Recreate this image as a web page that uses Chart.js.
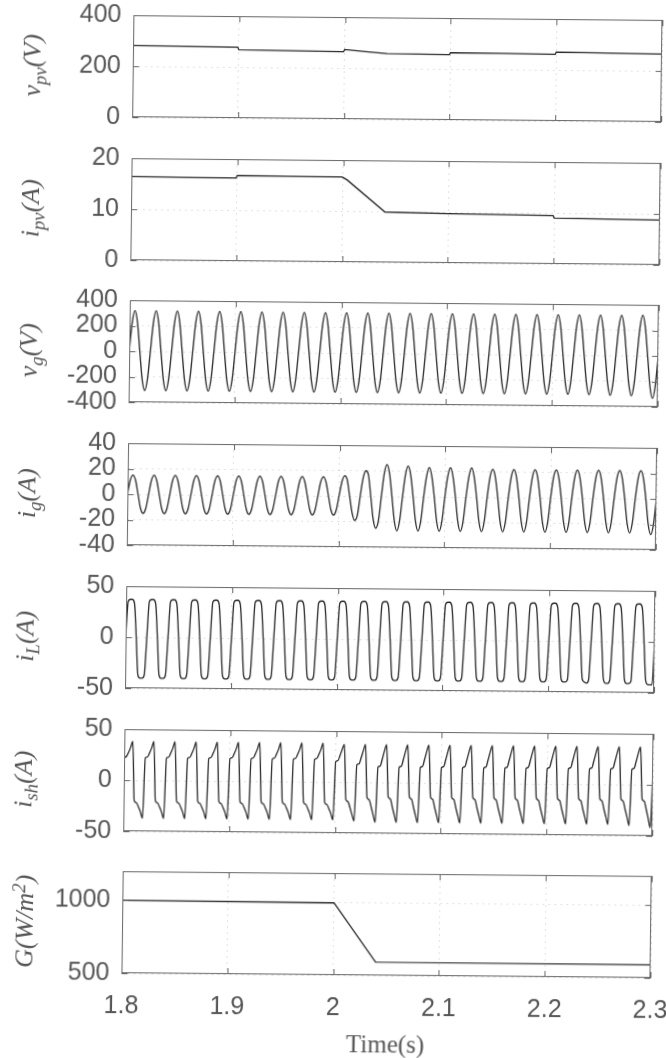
<!DOCTYPE html>
<html>
<head>
<meta charset="utf-8">
<script src="https://cdn.jsdelivr.net/npm/chart.js@4.4.0/dist/chart.umd.min.js"></script>
<style>
  html, body { margin: 0; padding: 0; background: #fff; }
  body { width: 666px; height: 1058px; overflow: hidden; position: relative; }
  #fig { position: absolute; left: 0; top: 0; width: 666px; height: 1058px;
         transform-origin: 333px 529px; transform: matrix(1, 0.009, -0.0125, 1, 0, 0); }
  .ylab { position: absolute; font-family: "Liberation Serif", serif; font-style: italic;
          font-size: 26px; color: #555; white-space: nowrap; line-height: 1;
          transform: translate(-50%, -50%) rotate(-90deg); }
  .ylab sub { font-size: 0.72em; vertical-align: -0.3em; }
  .ylab sup { font-size: 0.72em; vertical-align: 0.45em; }
</style>
</head>
<body>
<div id="fig"></div>
<script>
// time axis
const timeTicks = [1.8, 1.9, 2.0, 2.1, 2.2, 2.3];
const timeLabels = ['1.8', '1.9', '2', '2.1', '2.2', '2.3'];

// PV voltage (V)
const vpvTime  = [1.8, 1.85, 1.899, 1.9, 1.95, 1.999, 2.0, 2.02, 2.04, 2.07, 2.099, 2.1, 2.15, 2.199, 2.2, 2.25, 2.3];
const vpvValue = [281, 280, 278, 268, 266, 264, 273, 265, 258, 257, 256, 264, 263, 261, 270, 268, 266];
const vpvTicks = [0, 200, 400];

// PV current (A)
const ipvTime  = [1.8, 1.899, 1.9, 1.999, 2.0, 2.004, 2.04, 2.1, 2.199, 2.2, 2.3];
const ipvValue = [16.4, 16.3, 16.8, 16.7, 16.6, 16.1, 9.9, 9.7, 9.5, 9.0, 8.8];
const ipvTicks = [0, 10, 20];

// grid voltage (V), eight samples per cycle (0.0025 s)
const vgStep = 0.0025;
const vgValue = [
  0, 225, 318, 225, 0, -218, -308, -218,
  0, 225, 318, 225, 0, -218, -308, -218,
  0, 225, 318, 225, 0, -218, -308, -218,
  0, 225, 318, 225, 0, -218, -308, -218,
  0, 225, 318, 225, 0, -218, -308, -218,
  0, 225, 318, 225, 0, -218, -308, -218,
  0, 224, 317, 224, 0, -218, -308, -218,
  0, 223, 316, 223, 0, -218, -308, -218,
  0, 223, 316, 223, 0, -218, -308, -218,
  0, 223, 316, 223, 0, -218, -308, -218,
  0, 223, 316, 223, 0, -218, -308, -218,
  0, 223, 316, 223, 0, -218, -308, -218,
  0, 223, 316, 223, 0, -218, -308, -218,
  0, 223, 316, 223, 0, -218, -308, -218,
  0, 223, 316, 223, 0, -218, -308, -218,
  0, 223, 316, 223, 0, -218, -308, -218,
  0, 223, 316, 223, 0, -218, -308, -218,
  0, 223, 316, 223, 0, -218, -308, -218,
  0, 223, 316, 223, 0, -218, -308, -218,
  0, 223, 316, 223, 0, -218, -308, -218,
  0, 223, 316, 223, 0, -218, -308, -218,
  0, 223, 316, 223, 0, -219, -310, -219,
  0, 223, 316, 223, 0, -221, -312, -221,
  0, 224, 317, 224, 0, -223, -315, -223,
  0, 225, 318, 225, 0, -237, -335, -237,
  0
];
const vgTicks = [-400, -200, 0, 200, 400];

// grid current (A), eight samples per cycle
const igStep = 0.0025;
const igValue = [
  0, 11, 15, 11, 0, -11, -15, -11,
  0, 11, 15, 11, 0, -11, -15, -11,
  0, 11, 15, 11, 0, -11, -15, -11,
  0, 11, 15, 11, 0, -11, -15, -11,
  0, 11, 15, 11, 0, -11, -15, -11,
  0, 11, 15, 11, 0, -11, -15, -11,
  0, 11, 15, 11, 0, -11, -15, -11,
  0, 11, 15, 11, 0, -11, -15, -11,
  0, 11, 15, 11, 0, -11, -15, -11,
  0, 11, 15, 11, 0, -11, -15, -11,
  0, 11, 16, 13, 0, -13, -19, -15,
  0, 14, 20, 17, 0, -18, -25, -19,
  0, 18, 25, 18, 0, -19, -27, -19,
  0, 17, 24, 17, 0, -19, -27, -19,
  0, 16, 23, 16, 0, -19, -27, -19,
  0, 16, 23, 16, 0, -19, -27, -19,
  0, 16, 23, 16, 0, -19, -27, -19,
  0, 16, 22, 16, 0, -19, -27, -19,
  0, 16, 22, 16, 0, -19, -27, -19,
  0, 16, 22, 16, 0, -19, -27, -19,
  0, 16, 22, 16, 0, -19, -27, -19,
  0, 16, 22, 16, 0, -19, -27, -19,
  0, 16, 22, 16, 0, -19, -27, -19,
  0, 16, 22, 16, 0, -19, -27, -19,
  0, 16, 22, 16, 0, -20, -28, -20,
  0
];
const igTicks = [-40, -20, 0, 20, 40];

// load current (A), ten samples per cycle (0.002 s)
const iLStep = 0.002;
const iLValue = [
  0, 35, 37, 37, 33, 0, -37, -40, -40, -37,
  0, 35, 37, 37, 33, 0, -37, -40, -40, -37,
  0, 35, 37, 37, 33, 0, -37, -40, -40, -37,
  0, 35, 37, 37, 33, 0, -37, -40, -40, -37,
  0, 35, 37, 37, 33, 0, -37, -40, -40, -37,
  0, 35, 37, 37, 33, 0, -37, -40, -40, -37,
  0, 35, 37, 37, 33, 0, -37, -40, -40, -37,
  0, 35, 37, 37, 33, 0, -37, -40, -40, -37,
  0, 35, 37, 37, 33, 0, -37, -40, -40, -37,
  0, 35, 37, 37, 33, 0, -37, -40, -40, -37,
  0, 35, 37, 37, 33, 0, -37, -40, -40, -37,
  0, 35, 37, 37, 33, 0, -37, -40, -40, -37,
  0, 35, 37, 37, 33, 0, -37, -40, -40, -37,
  0, 35, 37, 37, 33, 0, -37, -40, -40, -37,
  0, 35, 37, 37, 33, 0, -37, -40, -40, -37,
  0, 35, 37, 37, 33, 0, -37, -40, -40, -37,
  0, 35, 37, 37, 33, 0, -37, -40, -40, -37,
  0, 35, 37, 37, 33, 0, -37, -40, -40, -37,
  0, 35, 37, 37, 33, 0, -37, -40, -40, -37,
  0, 35, 37, 37, 33, 0, -37, -40, -40, -37,
  0, 35, 37, 37, 33, 0, -37, -40, -40, -38,
  0, 35, 37, 37, 33, 0, -37, -40, -41, -38,
  0, 35, 37, 37, 33, 0, -37, -41, -41, -38,
  0, 35, 37, 37, 33, 0, -38, -41, -41, -39,
  0, 35, 37, 37, 33, 0, -38, -42, -42, -42,
  0
];
const iLTicks = [-50, 0, 50];

// shunt current (A), ten samples per cycle
const ishStep = 0.002;
const ishValue = [
  22, 23, 27, 32, 38, -20, -22, -26, -31, -37,
  22, 23, 27, 32, 38, -20, -22, -26, -31, -37,
  22, 23, 27, 32, 38, -20, -22, -26, -31, -37,
  22, 23, 27, 32, 38, -20, -22, -26, -31, -37,
  22, 23, 27, 32, 38, -20, -22, -26, -31, -37,
  22, 23, 27, 32, 38, -20, -22, -26, -31, -37,
  22, 23, 27, 32, 38, -20, -22, -26, -31, -37,
  22, 23, 27, 32, 38, -20, -22, -26, -31, -37,
  22, 23, 27, 32, 38, -20, -22, -26, -31, -37,
  22, 23, 27, 32, 38, -20, -22, -26, -31, -37,
  20, 21, 26, 32, 37, -17, -19, -25, -32, -38,
  17, 18, 24, 31, 37, -15, -17, -24, -32, -39,
  15, 16, 23, 31, 37, -14, -16, -24, -32, -39,
  15, 16, 23, 31, 37, -14, -16, -24, -32, -39,
  15, 16, 23, 31, 37, -14, -16, -24, -32, -39,
  15, 16, 23, 31, 37, -14, -16, -24, -32, -39,
  15, 16, 23, 31, 37, -14, -16, -24, -32, -39,
  15, 16, 23, 31, 37, -14, -16, -24, -32, -39,
  15, 16, 23, 31, 37, -14, -16, -24, -32, -39,
  15, 16, 23, 31, 37, -14, -16, -24, -32, -39,
  15, 16, 23, 31, 37, -14, -16, -24, -32, -39,
  15, 16, 23, 31, 37, -14, -16, -24, -32, -39,
  15, 16, 23, 31, 37, -14, -16, -24, -32, -39,
  15, 16, 23, 31, 37, -14, -16, -24, -32, -40,
  15, 16, 23, 31, 37, -14, -16, -24, -33, -42,
  15
];
const ishTicks = [-50, 0, 50];

// irradiance (W/m^2)
const gTime  = [1.8, 2.0, 2.04, 2.3];
const gValue = [1000, 996, 592, 590];
const gTicks = [500, 1000];

function sampled(start, step, values) {
  return values.map((v, k) => ({ x: +(start + k * step).toFixed(4), y: v }));
}
function paired(times, values) {
  return values.map((v, k) => ({ x: times[k], y: v }));
}

const panels = [
  { label: 'v<sub>pv</sub>(V)', data: paired(vpvTime, vpvValue), min: 0, max: 400, ticks: vpvTicks },
  { label: 'i<sub>pv</sub>(A)', data: paired(ipvTime, ipvValue), min: 0, max: 20, ticks: ipvTicks },
  { label: 'v<sub>g</sub>(V)', data: sampled(1.8, vgStep, vgValue), min: -400, max: 400, ticks: vgTicks, smooth: true },
  { label: 'i<sub>g</sub>(A)', data: sampled(1.8, igStep, igValue), min: -40, max: 40, ticks: igTicks, smooth: true },
  { label: 'i<sub>L</sub>(A)', data: sampled(1.8, iLStep, iLValue), min: -50, max: 50, ticks: iLTicks, smooth: true },
  { label: 'i<sub>sh</sub>(A)', data: sampled(1.8, ishStep, ishValue), min: -50, max: 50, ticks: ishTicks, smooth: true },
  { label: 'G(W/m<sup>2</sup>)', data: paired(gTime, gValue), min: 500, max: 1200, ticks: gTicks }
];

// box round the plot area with short inward ticks, like the matlab axes
const framePlugin = {
  id: 'frame',
  afterDraw(chart) {
    const { ctx, chartArea: a, scales: { x, y } } = chart;
    ctx.save();
    ctx.strokeStyle = '#666';
    ctx.lineWidth = 1;
    ctx.strokeRect(a.left + 0.5, a.top + 0.5, a.right - a.left - 1, a.bottom - a.top - 1);
    ctx.beginPath();
    x.ticks.forEach(t => {
      const px = Math.round(x.getPixelForValue(t.value)) + 0.5;
      ctx.moveTo(px, a.top); ctx.lineTo(px, a.top + 6);
      ctx.moveTo(px, a.bottom); ctx.lineTo(px, a.bottom - 6);
    });
    y.ticks.forEach(t => {
      const py = Math.round(y.getPixelForValue(t.value)) + 0.5;
      ctx.moveTo(a.left, py); ctx.lineTo(a.left + 6, py);
      ctx.moveTo(a.right, py); ctx.lineTo(a.right - 6, py);
    });
    ctx.stroke();
    ctx.restore();
  }
};

// no label overhang padding: the plot box keeps its own size
function noOverhang(s) {
  s.paddingTop = 0; s.paddingBottom = 0; s.paddingLeft = 0; s.paddingRight = 0;
}

const fig = document.getElementById('fig');
const CW = 700, L = 127, W = 529, H = 102, PAD = 16, GAP = 142.7, TOP0 = 17;
const tickFont = { family: 'Liberation Sans', size: 25 };
const gridStyle = { color: 'rgba(0,0,0,0.12)', drawTicks: false, lineWidth: 1 };

panels.forEach((p, i) => {
  const last = i === panels.length - 1;
  const top = Math.round(TOP0 + i * GAP);
  const canvas = document.createElement('canvas');
  canvas.width = CW;
  canvas.height = PAD + H + (last ? 85 : PAD);
  canvas.style.cssText = 'position:absolute;left:0;top:' + (top - PAD) + 'px;';
  fig.appendChild(canvas);

  const lab = document.createElement('div');
  lab.className = 'ylab';
  lab.innerHTML = p.label;
  lab.style.left = '29px';
  lab.style.top = (top + H / 2) + 'px';
  fig.appendChild(lab);

  new Chart(canvas, {
    type: 'line',
    data: {
      datasets: [{
        data: p.data,
        borderColor: '#262626',
        borderWidth: 1.3,
        pointRadius: 0,
        fill: false,
        tension: 0,
        cubicInterpolationMode: p.smooth ? 'monotone' : 'default'
      }]
    },
    options: {
      responsive: false,
      animation: false,
      devicePixelRatio: 1,
      layout: { padding: { left: 0, right: CW - L - W, top: PAD, bottom: last ? 0 : PAD } },
      plugins: { legend: { display: false }, tooltip: { enabled: false } },
      scales: {
        x: {
          type: 'linear', min: 1.8, max: 2.3,
          afterBuildTicks: s => { s.ticks = timeTicks.map(v => ({ value: v })); },
          afterFit: s => { s.height = last ? 85 : 0; noOverhang(s); },
          grid: gridStyle,
          border: { display: false, dash: [2, 4] },
          ticks: {
            display: last, padding: 18, color: '#555', font: tickFont, maxRotation: 0,
            autoSkip: false, callback: (v, k) => timeLabels[k]
          },
          title: {
            display: last, text: 'Time(s)', color: '#555',
            font: { family: 'Liberation Serif', size: 25 }, padding: { top: 0, bottom: 0 }
          }
        },
        y: {
          min: p.min, max: p.max,
          afterBuildTicks: s => { s.ticks = p.ticks.map(v => ({ value: v })); },
          afterFit: s => { s.width = L; noOverhang(s); },
          grid: gridStyle,
          border: { display: false, dash: [2, 4] },
          ticks: { padding: 12, color: '#555', font: tickFont, autoSkip: false, callback: v => String(v) }
        }
      }
    },
    plugins: [framePlugin]
  });
});
</script>
</body>
</html>
